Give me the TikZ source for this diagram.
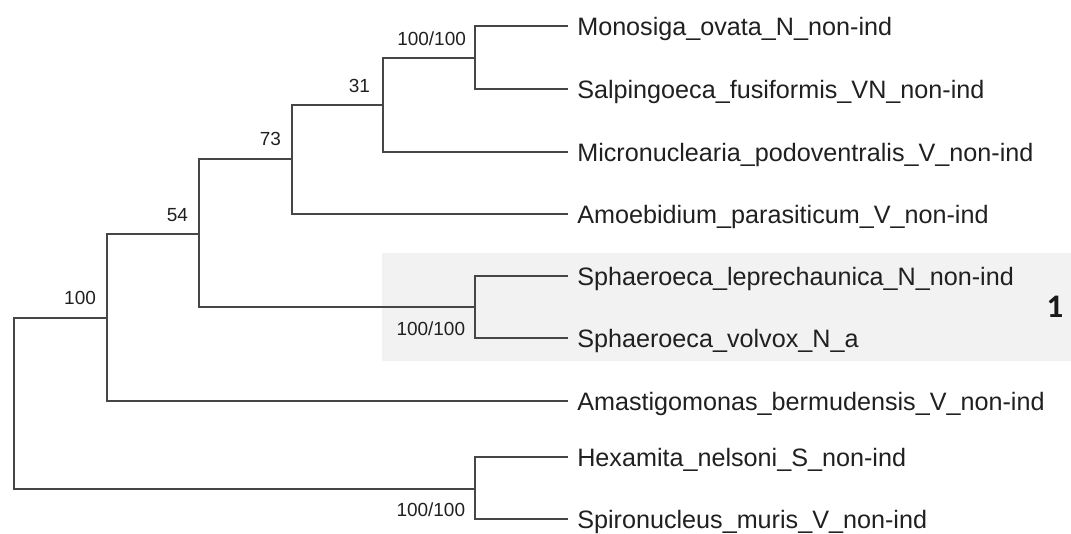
\documentclass[tikz,border=0pt]{standalone}
\usepackage{fontspec}
\setmainfont{Liberation Sans}
\newfontfamily\cladefont{Carlito}
\usepackage{xcolor}
\usetikzlibrary{positioning}
\definecolor{TreeC}{RGB}{70,70,70}
\definecolor{TxtC}{RGB}{32,32,32}
\definecolor{CladeBg}{RGB}{242,242,242}
\tikzset{
  br/.style={TreeC,line width=0.05cm,line cap=rect},
  leaf/.style={anchor=west,inner sep=0pt,text=TxtC,
               font=\fontsize{17.9}{20}\selectfont,text height=12.8pt,text depth=0pt},
  bs/.style={inner sep=0pt,text=TxtC,
             font=\fontsize{13.5}{16}\selectfont,text height=9.7pt,text depth=0pt},
  clade/.style={inner sep=0pt,text=black!90,font=\cladefont\bfseries\fontsize{23.4}{26}\selectfont},
}

\begin{document}
\begin{tikzpicture}[x=0.025cm,y=-0.025cm]
  \useasboundingbox (0,0) rectangle (1071,533);
  \fill[CladeBg] (382,253) rectangle (1071,361);

  % inner nodes
  \coordinate (root) at (14,403);
  \coordinate (n100) at (107,318);
  \coordinate (n54) at (199,234);
  \coordinate (n73) at (292,159);
  \coordinate (n31) at (383,105);
  \coordinate (nMS) at (475,58);
  \coordinate (nSph) at (475,307);
  \coordinate (nHS) at (475,489);

  % tips
  \coordinate (t1) at (567,26);
  \coordinate (t2) at (567,89);
  \coordinate (t3) at (567,152);
  \coordinate (t4) at (567,214);
  \coordinate (t5) at (567,276);
  \coordinate (t6) at (567,338);
  \coordinate (t7) at (567,401);
  \coordinate (t8) at (567,457);
  \coordinate (t9) at (567,519);

  \draw[br] (root) |- (n100);
  \draw[br] (root) |- (nHS);
  \draw[br] (n100) |- (n54);
  \draw[br] (n100) |- (t7);
  \draw[br] (n54) |- (n73);
  \draw[br] (n54) |- (nSph);
  \draw[br] (n73) |- (n31);
  \draw[br] (n73) |- (t4);
  \draw[br] (n31) |- (nMS);
  \draw[br] (n31) |- (t3);
  \draw[br] (nMS) |- (t1);
  \draw[br] (nMS) |- (t2);
  \draw[br] (nSph) |- (t5);
  \draw[br] (nSph) |- (t6);
  \draw[br] (nHS) |- (t8);
  \draw[br] (nHS) |- (t9);

  \node[leaf, right=0.25cm of t1] (l1) {Monosiga\_ovata\_N\_non-ind};
  \node[leaf, right=0.25cm of t2] (l2) {Salpingoeca\_fusiformis\_VN\_non-ind};
  \node[leaf, right=0.25cm of t3] (l3) {Micronuclearia\_podoventralis\_V\_non-ind};
  \node[leaf, right=0.25cm of t4] (l4) {Amoebidium\_parasiticum\_V\_non-ind};
  \node[leaf, right=0.25cm of t5] (l5) {Sphaeroeca\_leprechaunica\_N\_non-ind};
  \node[leaf, right=0.25cm of t6] (l6) {Sphaeroeca\_volvox\_N\_a};
  \node[leaf, right=0.25cm of t7] (l7) {Amastigomonas\_bermudensis\_V\_non-ind};
  \node[leaf, right=0.25cm of t8] (l8) {Hexamita\_nelsoni\_S\_non-ind};
  \node[leaf, right=0.25cm of t9] (l9) {Spironucleus\_muris\_V\_non-ind};

  % support values
  \node[bs, left=0.22cm of nMS, yshift=0.475cm] (bMS) {100/100};
  \node[bs, left=0.32cm of n31, yshift=0.475cm] (b31) {31};
  \node[bs, left=0.27cm of n73, yshift=0.5cm] (b73) {73};
  \node[bs, left=0.27cm of n54, yshift=0.475cm] (b54) {54};
  \node[bs, left=0.27cm of n100, yshift=0.5cm] (b100) {100};
  \node[bs, left=0.24cm of nSph, yshift=-0.55cm] (bSph) {100/100};
  \node[bs, left=0.24cm of nHS, yshift=-0.525cm] (bHS) {100/100};

  \node[clade] (c1) at (1055,307) {1};
\end{tikzpicture}
\end{document}
